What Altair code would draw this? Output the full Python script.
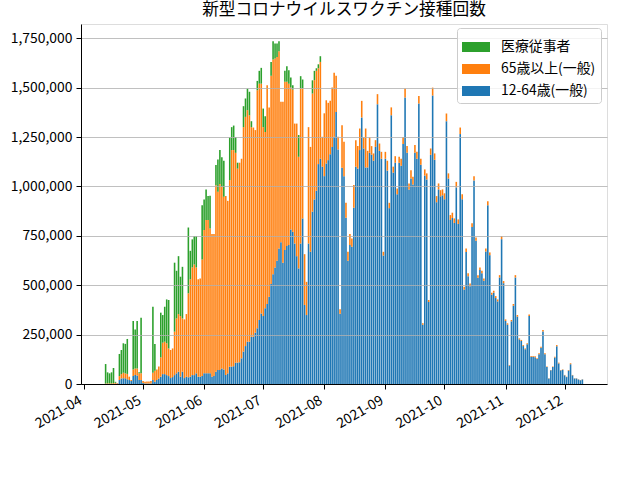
import altair as alt
import pandas as pd

# ---- data (thousands of doses per day), Mon..Sun weeks from 2021-04-12 to 2021-12-10
dates = pd.date_range("2021-04-12", "2021-12-10", freq="D")

blue_k = [
    0, 0, 0, 0, 0, 1, 2,
    20, 28, 29, 29, 24, 20, 15,
    40, 45, 43, 20, 20, 5, 3,
    3, 3, 3, 20, 12, 20, 28,
    37, 50, 50, 45, 40, 30, 35,
    45, 54, 62, 37, 62, 30, 37,
    34, 37, 45, 45, 54, 37, 37,
    40, 54, 54, 54, 54, 37, 40,
    62, 71, 71, 79, 74, 45, 54,
    88, 88, 90, 108, 108, 110, 130,
    164, 192, 214, 214, 239, 239, 260,
    282, 324, 357, 344, 383, 405, 442,
    506, 556, 590, 624, 686, 718, 614,
    678, 698, 703, 782, 770, 711, 647,
    585, 711, 838, 400, 349, 711, 669,
    872, 934, 978, 1113, 1140, 1100, 1052,
    1116, 1133, 1163, 1200, 1251, 1377, 1187,
    355, 1095, 1052, 841, 624, 703, 695,
    892, 1099, 1091, 1184, 1349, 1192, 1096,
    1096, 1170, 1160, 1130, 1200, 1416, 1180,
    1140, 650, 1140, 1080, 890, 1360, 1070,
    1120, 960, 1120, 1105, 1215, 1450, 1170,
    985, 1040, 1010, 1170, 1140, 1420, 1110,
    300, 1055, 1035, 415, 1160, 1460, 1135,
    920, 985, 950, 955, 935, 1330, 1040,
    830, 840, 815, 995, 810, 1265, 935,
    478, 668, 545, 495, 795, 1030, 725,
    538, 577, 560, 522, 670, 905, 652,
    452, 462, 435, 418, 539, 733, 510,
    319, 300, 93, 317, 396, 539, 341,
    226, 218, 192, 176, 201, 344, 138,
    138, 136, 127, 151, 184, 266, 151,
    86, 28, 69, 86, 134, 191, 104,
    69, 72, 44, 35, 68, 100, 44,
    28, 28, 23, 19, 23,
]

orange_k = [
    2, 3, 3, 3, 4, 5, 3,
    20, 22, 28, 25, 27, 17, 5,
    34, 34, 36, 35, 34, 10, 8,
    10, 10, 12, 37, 55, 54, 60,
    98, 159, 164, 161, 140, 142, 145,
    220, 278, 292, 307, 270, 297, 317,
    425, 493, 545, 560, 536, 493, 497,
    590, 725, 776, 776, 733, 722, 719,
    944, 902, 941, 919, 874, 906, 873,
    944, 1096, 1094, 1062, 982, 1010, 1010,
    1136, 1160, 1172, 1146, 1061, 1059, 1025,
    1205, 1196, 1163, 956, 893, 1107, 958,
    1054, 1086, 1057, 1031, 998, 710, 814,
    852, 832, 817, 718, 720, 607, 671,
    565, 787, 658, 257, 168, 589, 531,
    598, 604, 607, 485, 490, 151, 318,
    320, 290, 270, 300, 324, 183, 64,
    23, 215, 174, 76, 45, 56, 42,
    115, 135, 113, 109, 84, 56, 197,
    84, 78, 44, 37, 34, 51, 37,
    35, 19, 35, 50, 27, 40, 30,
    33, 29, 30, 35, 35, 45, 34,
    30, 42, 39, 39, 35, 37, 30,
    7, 31, 31, 10, 32, 40, 32,
    31, 30, 31, 30, 30, 39, 26,
    25, 27, 23, 28, 23, 33, 25,
    14, 18, 15, 14, 18, 22, 17,
    13, 13, 13, 12, 16, 20, 14,
    10, 10, 10, 10, 12, 16, 11,
    8, 7, 3, 7, 9, 12, 8,
    5, 5, 5, 4, 5, 8, 4,
    4, 4, 3, 4, 5, 7, 4,
    2, 1, 2, 2, 4, 6, 4,
    2, 2, 2, 2, 3, 5, 2,
    1, 1, 1, 1, 1,
]

green_k = [
    99, 56, 51, 56, 77, 5, 0,
    112, 122, 149, 149, 177, 0, 0,
    245, 197, 240, 5, 281, 0, 0,
    0, 0, 0, 334, 135, 0, 0,
    226, 140, 177, 222, 245, 0, 0,
    349, 241, 293, 199, 261, 0, 0,
    333, 144, 142, 144, 159, 0, 0,
    275, 155, 155, 121, 166, 0, 0,
    102, 163, 172, 149, 182, 0, 0,
    216, 116, 124, 80, 30, 0, 0,
    106, 93, 109, 119, 30, 0, 0,
    47, 65, 80, 94, 79, 0, 0,
    70, 93, 76, 68, 51, 0, 0,
    55, 78, 68, 51, 22, 0, 0,
    110, 60, 45, 0, 0, 0, 0,
    67, 47, 13, 20, 29, 0, 0,
] + [0] * (243 - 112)

series_names = ["医療従事者", "65歳以上(一般)", "12-64歳(一般)"]
series_colors = ["#2ca02c", "#ff7f0e", "#1f77b4"]
y_ticks = [0, 250000, 500000, 750000, 1000000, 1250000, 1500000, 1750000]

n = min(len(dates), len(blue_k), len(orange_k), len(green_k))
rows = []
half = pd.Timedelta(hours=9.6)  # bar width 0.8 day
for i in range(n):
    d = dates[i]
    for name, arr, order in [("12-64歳(一般)", blue_k, 0),
                             ("65歳以上(一般)", orange_k, 1),
                             ("医療従事者", green_k, 2)]:
        rows.append({"start": d - half, "end": d + half, "series": name,
                     "value": arr[i] * 1000, "ord": order})
df = pd.DataFrame(rows)

FONT = "Noto Sans CJK JP"

chart = alt.Chart(df).transform_stack(
    stack="value", groupby=["start"], sort=[alt.SortField("ord", order="ascending")],
    as_=["y0", "y1"],
).mark_bar().encode(
    x=alt.X("start:T",
            scale=alt.Scale(domain=[alt.DateTime(year=2021, month=3, date=30, hours=12),
                                    alt.DateTime(year=2021, month=12, date=22, hours=12)]),
            axis=alt.Axis(title=None, format="%Y-%m",
                          values=[alt.DateTime(year=2021, month=m, date=1) for m in range(4, 13)],
                          labelAngle=330, labelAlign="right", labelBaseline="top",
                          labelOffset=-7, labelPadding=4, tickSize=5, grid=False,
                          labelFontSize=13.9, labelColor="black", tickColor="black",
                          domainColor="black", labelFont=FONT, zindex=1)),
    x2="end:T",
    y=alt.Y("y0:Q",
            scale=alt.Scale(domain=[0, 1822000], nice=False, zero=True),
            axis=alt.Axis(title=None, values=y_ticks, format=",d", grid=True,
                          gridColor="#b0b0b0", gridWidth=0.8, tickSize=5,
                          labelPadding=4, labelFontSize=13.9, labelColor="black",
                          tickColor="black", domainColor="black", labelFont=FONT,
                          zindex=1)),
    y2="y1:Q",
    color=alt.Color("series:N",
                    scale=alt.Scale(domain=series_names, range=series_colors),
                    legend=alt.Legend(title=None, orient="none", legendX=376, legendY=4,
                                      symbolType="M-1,-0.357H1V0.357H-1Z", symbolSize=784,
                                      symbolStrokeWidth=0, symbolOpacity=1,
                                      labelFont=FONT, labelFontSize=13.9, labelColor="black",
                                      labelOffset=11, rowPadding=1, padding=5,
                                      fillColor="rgba(255,255,255,0.8)",
                                      strokeColor="#cccccc", cornerRadius=3, zindex=2)),
).properties(
    width=526, height=360,
    title=alt.TitleParams("新型コロナウイルスワクチン接種回数", fontSize=16.7,
                          fontWeight="normal", font=FONT, anchor="middle",
                          color="black", offset=5),
    padding={"left": 81, "top": 24, "right": 33, "bottom": 96},
    autosize=alt.AutoSizeParams(type="none"),
).configure_view(stroke="black", strokeWidth=1).configure(font=FONT)

chart.save("out.html", embed_options={"renderer": "svg", "actions": False})
